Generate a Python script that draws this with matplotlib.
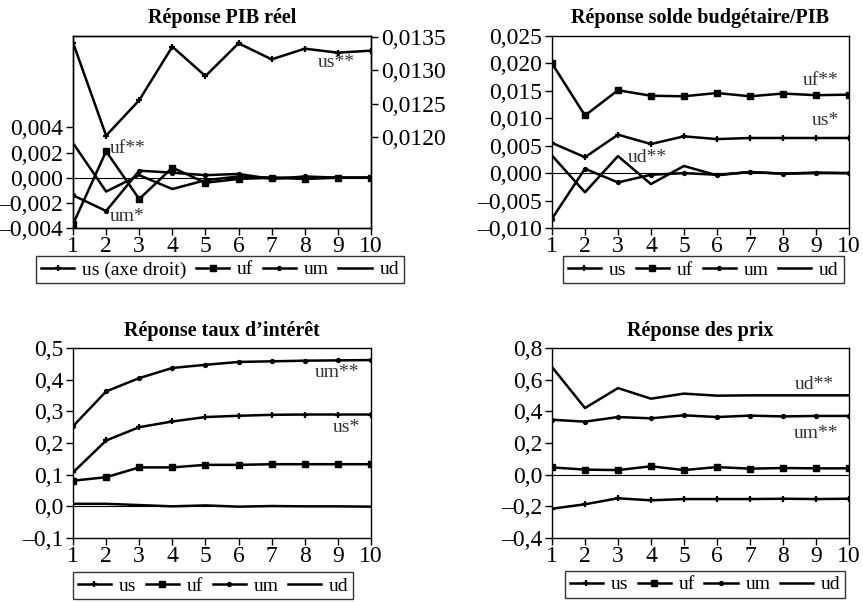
import numpy as np
import matplotlib
matplotlib.use('Agg')
import matplotlib.pyplot as plt
from matplotlib.ticker import FuncFormatter

plt.rcParams['font.family'] = ['Liberation Serif', 'DejaVu Serif']
plt.rcParams['axes.linewidth'] = 1.0
plt.rcParams['xtick.major.width'] = 1.0
plt.rcParams['ytick.major.width'] = 1.0

periods = np.arange(1, 11)

# Réponse PIB réel (us sur l'axe droit)
pib_us = [0.01341, 0.01202, 0.01255, 0.01335, 0.01291, 0.01340, 0.01316, 0.01332, 0.01326, 0.01329]
pib_uf = [-0.0037, 0.0021, -0.0017, 0.0008, -0.0004, -0.0001, 0.0000, -0.0001, 0.0000, 0.0000]
pib_um = [-0.0014, -0.00265, 0.00056, 0.0004, 0.0002, 0.0003, -0.0001, 0.0001, 0.0000, 0.0000]
pib_ud = [0.00275, -0.0011, 0.0002, -0.0009, -0.0002, 0.0001, 0.0000, 0.0000, 0.0000, 0.0000]

# Réponse solde budgétaire/PIB
sb_us = [0.0055, 0.0029, 0.0070, 0.0053, 0.0067, 0.0062, 0.0064, 0.0064, 0.0064, 0.0064]
sb_uf = [0.0200, 0.0105, 0.0151, 0.0141, 0.0140, 0.0146, 0.0140, 0.0145, 0.0142, 0.0143]
sb_um = [-0.0083, 0.0008, -0.0017, -0.0003, 0.0000, -0.0003, 0.0002, -0.0001, 0.0001, 0.0000]
sb_ud = [0.0032, -0.0035, 0.0031, -0.0020, 0.0013, -0.0004, 0.0002, -0.0001, 0.0000, 0.0000]

# Réponse taux d'intérêt
ti_us = [0.107, 0.208, 0.250, 0.268, 0.282, 0.286, 0.289, 0.290, 0.290, 0.290]
ti_uf = [0.081, 0.092, 0.123, 0.123, 0.131, 0.131, 0.133, 0.133, 0.133, 0.133]
ti_um = [0.253, 0.363, 0.405, 0.437, 0.447, 0.456, 0.458, 0.460, 0.461, 0.462]
ti_ud = [0.008, 0.008, 0.004, 0.000, 0.003, -0.001, 0.001, 0.000, 0.000, -0.001]

# Réponse des prix
px_us = [-0.215, -0.187, -0.149, -0.162, -0.154, -0.154, -0.154, -0.152, -0.154, -0.152]
px_uf = [0.046, 0.032, 0.029, 0.053, 0.029, 0.048, 0.038, 0.042, 0.040, 0.040]
px_um = [0.347, 0.335, 0.364, 0.356, 0.375, 0.364, 0.373, 0.368, 0.371, 0.371]
px_ud = [0.680, 0.421, 0.547, 0.480, 0.512, 0.499, 0.501, 0.501, 0.501, 0.501]

TICK_FS = 17
LEG_FS = 14
NOTE_FS = 14
LW = 1.8


def comma(decimals):
    def fmt(v, pos):
        s = f"{v:.{decimals}f}".replace('.', ',')
        if s.startswith('-'):
            s = '\u2013' + s[1:]
        return s
    return FuncFormatter(fmt)


def style(ax):
    ax.set_xlim(1, 10)
    ax.set_xticks(periods)
    ax.tick_params(direction='out', length=5, labelsize=TICK_FS, pad=2)
    ax.tick_params(axis='x', pad=1)
    ax.axhline(0, color='black', lw=0.8, zorder=1)


def plot_us(ax, y):
    return ax.plot(periods, y, color='black', lw=LW, marker='+', ms=5, mew=1.6)[0]


def plot_uf(ax, y):
    return ax.plot(periods, y, color='black', lw=LW, marker='s', ms=4.5)[0]


def plot_um(ax, y):
    return ax.plot(periods, y, color='black', lw=LW, marker='o', ms=2.8)[0]


def plot_ud(ax, y):
    return ax.plot(periods, y, color='black', lw=LW)[0]


def draw(ax, us, uf, um, ud):
    return [plot_us(ax, us), plot_uf(ax, uf), plot_um(ax, um), plot_ud(ax, ud)]


def legend(fig, handles, labels, cx, cy):
    leg = fig.legend(handles, labels, loc='center', bbox_to_anchor=(cx, cy), ncol=4,
                     fontsize=LEG_FS, frameon=True, fancybox=False, handlelength=1.7,
                     handletextpad=0.4, columnspacing=0.5, borderpad=0.25)
    leg.get_frame().set_edgecolor('black')
    leg.get_frame().set_linewidth(1.0)


fig = plt.figure(figsize=(8.63, 6.02), dpi=100)

ax1 = fig.add_axes([0.0846, 0.6213, 0.3453, 0.319])
ax2 = fig.add_axes([0.6396, 0.6213, 0.3441, 0.319])
ax3 = fig.add_axes([0.0846, 0.1063, 0.3453, 0.3156])
ax4 = fig.add_axes([0.6396, 0.1063, 0.3441, 0.3156])

# --- PIB réel
style(ax1)
ax1r = ax1.twinx()
h_us = plot_us(ax1r, pib_us)
h_uf = plot_uf(ax1, pib_uf)
h_um = plot_um(ax1, pib_um)
h_ud = plot_ud(ax1, pib_ud)
ax1.set_ylim(-0.004, 0.01128)
ax1.set_yticks([-0.004, -0.002, 0.0, 0.002, 0.004])
ax1.yaxis.set_major_formatter(comma(3))
ax1r.set_ylim(0.01064, 0.01351)
ax1r.set_yticks([0.0120, 0.0125, 0.0130, 0.0135])
ax1r.yaxis.set_major_formatter(comma(4))
ax1r.tick_params(direction='out', length=5, labelsize=TICK_FS, pad=2)
ax1.set_title('Réponse PIB réel', fontsize=14.5, fontweight='bold', pad=9)
ax1r.text(8.4, 0.01312, 'us**', fontsize=NOTE_FS, color='#333333', va='center')
ax1.text(2.12, 0.00232, 'uf**', fontsize=NOTE_FS, color='#333333', va='center')
ax1.text(2.12, -0.0031, 'um*', fontsize=NOTE_FS, color='#333333', va='center')
legend(fig, [h_us, h_uf, h_um, h_ud], ['us (axe droit)', 'uf', 'um', 'ud'], 0.255, 0.552)

# --- Solde budgétaire/PIB
style(ax2)
hs = draw(ax2, sb_us, sb_uf, sb_um, sb_ud)
ax2.set_ylim(-0.010, 0.025)
ax2.set_yticks(np.arange(-0.010, 0.0251, 0.005))
ax2.yaxis.set_major_formatter(comma(3))
ax2.set_title('Réponse solde budgétaire/PIB', fontsize=14.5, fontweight='bold', pad=9)
ax2.text(8.6, 0.0169, 'uf**', fontsize=NOTE_FS, color='#333333', va='center')
ax2.text(8.88, 0.0096, 'us*', fontsize=NOTE_FS, color='#333333', va='center')
ax2.text(3.3, 0.0028, 'ud**', fontsize=NOTE_FS, color='#333333', va='center')
legend(fig, hs, ['us', 'uf', 'um', 'ud'], 0.815, 0.552)

# --- Taux d'intérêt
style(ax3)
hs = draw(ax3, ti_us, ti_uf, ti_um, ti_ud)
ax3.set_ylim(-0.1, 0.5)
ax3.set_yticks(np.arange(-0.1, 0.51, 0.1))
ax3.yaxis.set_major_formatter(comma(1))
ax3.set_title('Réponse taux d\u2019intérêt', fontsize=14.5, fontweight='bold', pad=9)
ax3.text(8.31, 0.422, 'um**', fontsize=NOTE_FS, color='#333333', va='center')
ax3.text(8.85, 0.248, 'us*', fontsize=NOTE_FS, color='#333333', va='center')
legend(fig, hs, ['us', 'uf', 'um', 'ud'], 0.247, 0.027)

# --- Prix
style(ax4)
hs = draw(ax4, px_us, px_uf, px_um, px_ud)
ax4.set_ylim(-0.4, 0.8)
ax4.set_yticks(np.arange(-0.4, 0.81, 0.2))
ax4.yaxis.set_major_formatter(comma(1))
ax4.set_title('Réponse des prix', fontsize=14.5, fontweight='bold', pad=9)
ax4.text(8.36, 0.568, 'ud**', fontsize=NOTE_FS, color='#333333', va='center')
ax4.text(8.33, 0.259, 'um**', fontsize=NOTE_FS, color='#333333', va='center')
legend(fig, hs, ['us', 'uf', 'um', 'ud'], 0.817, 0.029)

fig.savefig('out.png', dpi=100)
